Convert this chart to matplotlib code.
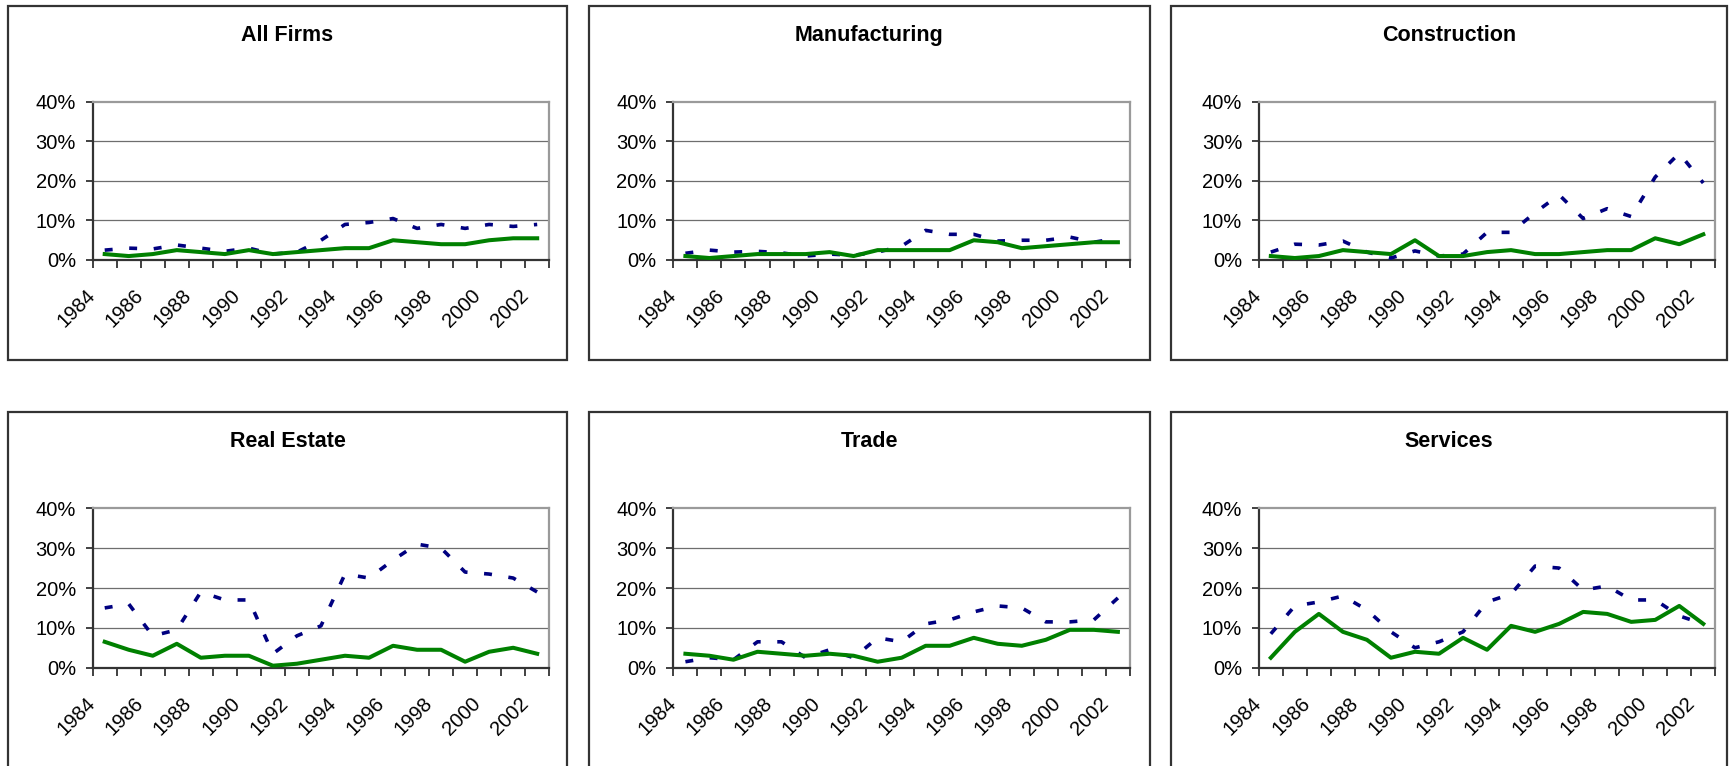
import matplotlib
matplotlib.use("Agg")
import matplotlib.pyplot as plt
from matplotlib.patches import Rectangle

plt.rcParams['font.family'] = ['Liberation Sans', 'DejaVu Sans']

years = list(range(1984, 2003))

titles = ["All Firms", "Manufacturing", "Construction",
          "Real Estate", "Trade", "Services"]

# dashed navy series (%)
all_firms_dash = [2.5, 3.0, 2.8, 3.8, 3.0, 2.2, 3.0, 1.5, 2.0, 5.0, 9.0, 9.5, 10.5, 8.0, 9.0, 8.0, 9.0, 8.5, 9.0]
manuf_dash = [1.7, 2.5, 2.0, 2.2, 1.8, 1.0, 1.5, 1.2, 2.0, 3.5, 7.5, 6.5, 6.5, 4.8, 5.0, 5.0, 5.8, 4.5, 5.5]
constr_dash = [2.0, 4.0, 3.8, 4.8, 2.0, 0.5, 2.3, 1.0, 1.5, 7.0, 7.0, 12.0, 16.5, 10.5, 13.0, 11.0, 21.0, 27.0, 19.5]
realest_dash = [15.0, 16.0, 8.0, 9.5, 19.0, 17.0, 17.0, 3.5, 8.0, 10.5, 23.5, 22.5, 27.0, 31.0, 30.0, 24.0, 23.5, 22.5, 19.0]
trade_dash = [1.5, 2.5, 2.0, 6.5, 6.5, 2.5, 4.5, 2.5, 7.5, 6.5, 11.0, 12.0, 14.0, 15.5, 15.0, 11.5, 11.5, 12.0, 17.5]
services_dash = [8.5, 15.5, 16.5, 18.0, 14.5, 9.0, 5.0, 6.5, 9.0, 16.5, 18.5, 25.5, 25.0, 19.5, 20.5, 17.0, 17.0, 13.0, 11.0]

# solid green series (%)
all_firms_solid = [1.5, 1.0, 1.5, 2.5, 2.0, 1.5, 2.5, 1.5, 2.0, 2.5, 3.0, 3.0, 5.0, 4.5, 4.0, 4.0, 5.0, 5.5, 5.5]
manuf_solid = [1.0, 0.5, 1.0, 1.5, 1.5, 1.5, 2.0, 1.0, 2.5, 2.5, 2.5, 2.5, 5.0, 4.5, 3.0, 3.5, 4.0, 4.5, 4.5]
constr_solid = [1.0, 0.5, 1.0, 2.5, 2.0, 1.5, 5.0, 1.0, 1.0, 2.0, 2.5, 1.5, 1.5, 2.0, 2.5, 2.5, 5.5, 4.0, 6.5]
realest_solid = [6.5, 4.5, 3.0, 6.0, 2.5, 3.0, 3.0, 0.5, 1.0, 2.0, 3.0, 2.5, 5.5, 4.5, 4.5, 1.5, 4.0, 5.0, 3.5]
trade_solid = [3.5, 3.0, 2.0, 4.0, 3.5, 3.0, 3.5, 3.0, 1.5, 2.5, 5.5, 5.5, 7.5, 6.0, 5.5, 7.0, 9.5, 9.5, 9.0]
services_solid = [2.5, 9.0, 13.5, 9.0, 7.0, 2.5, 4.0, 3.5, 7.5, 4.5, 10.5, 9.0, 11.0, 14.0, 13.5, 11.5, 12.0, 15.5, 11.0]

dash_series = [all_firms_dash, manuf_dash, constr_dash, realest_dash, trade_dash, services_dash]
solid_series = [all_firms_solid, manuf_solid, constr_solid, realest_solid, trade_solid, services_solid]

y_ticks = [0, 10, 20, 30, 40]

W, H = 1729, 766
fig = plt.figure(figsize=(W / 100, H / 100), dpi=100)

# layout in pixels
ax_lefts = [92.7, 673.4, 1258.8]
ax_width = 456.5
row_plot = [(102, 260), (508.3, 667.7)]
box_x = [(8.3, 566.7), (589, 1150), (1171, 1727)]
box_y = [(6, 360), (412.3, 775)]
title_base = [40.7, 447.0]

for k in range(6):
    r, c = divmod(k, 3)
    x0, x1 = box_x[c]
    y0, y1 = box_y[r]
    fig.patches.append(Rectangle((x0 / W, 1 - y1 / H), (x1 - x0) / W, (y1 - y0) / H,
                                 transform=fig.transFigure, fill=False,
                                 edgecolor='#333333', linewidth=1.6))
    fig.text((x0 + x1) / 2 / W, 1 - title_base[r] / H, titles[k],
             ha='center', va='baseline', fontsize=15.5, fontweight='bold')

    top, bot = row_plot[r]
    ax = fig.add_axes([ax_lefts[c] / W, 1 - bot / H, ax_width / W, (bot - top) / H])
    ax.set_xlim(1983.5, 2002.5)
    ax.set_ylim(0, 40)

    for g in y_ticks[1:-1]:
        ax.axhline(g, color='#6e6e6e', linewidth=0.9, zorder=1)

    ax.plot(years, dash_series[k], color='#000080', linewidth=2.6,
            linestyle=(0, (2.2, 4.6)), dash_capstyle='butt', zorder=3)
    ax.plot(years, solid_series[k], color='#008000', linewidth=2.9,
            solid_joinstyle='round', zorder=4)

    ax.set_yticks(y_ticks)
    ax.set_yticklabels([f"{v}%" for v in y_ticks], fontsize=14.5)

    bounds = [y - 0.5 for y in years] + [years[-1] + 0.5]
    labels = [str(y) if (y - years[0]) % 2 == 0 else "" for y in years] + [""]
    ax.set_xticks(bounds)
    ax.set_xticklabels(labels, fontsize=14.5, rotation=45, ha='right', va='center',
                       rotation_mode='anchor')

    ax.tick_params(axis='y', direction='out', length=5, width=1.3,
                   color='#333333', pad=7)
    ax.tick_params(axis='x', direction='out', length=5.5, width=1.3,
                   color='#333333', pad=18)

    for side in ['left', 'bottom']:
        ax.spines[side].set_color('#333333')
        ax.spines[side].set_linewidth(1.6)
    for side in ['top', 'right']:
        ax.spines[side].set_color('#9a9a9a')
        ax.spines[side].set_linewidth(1.6)

fig.savefig("out.png", dpi=100)
